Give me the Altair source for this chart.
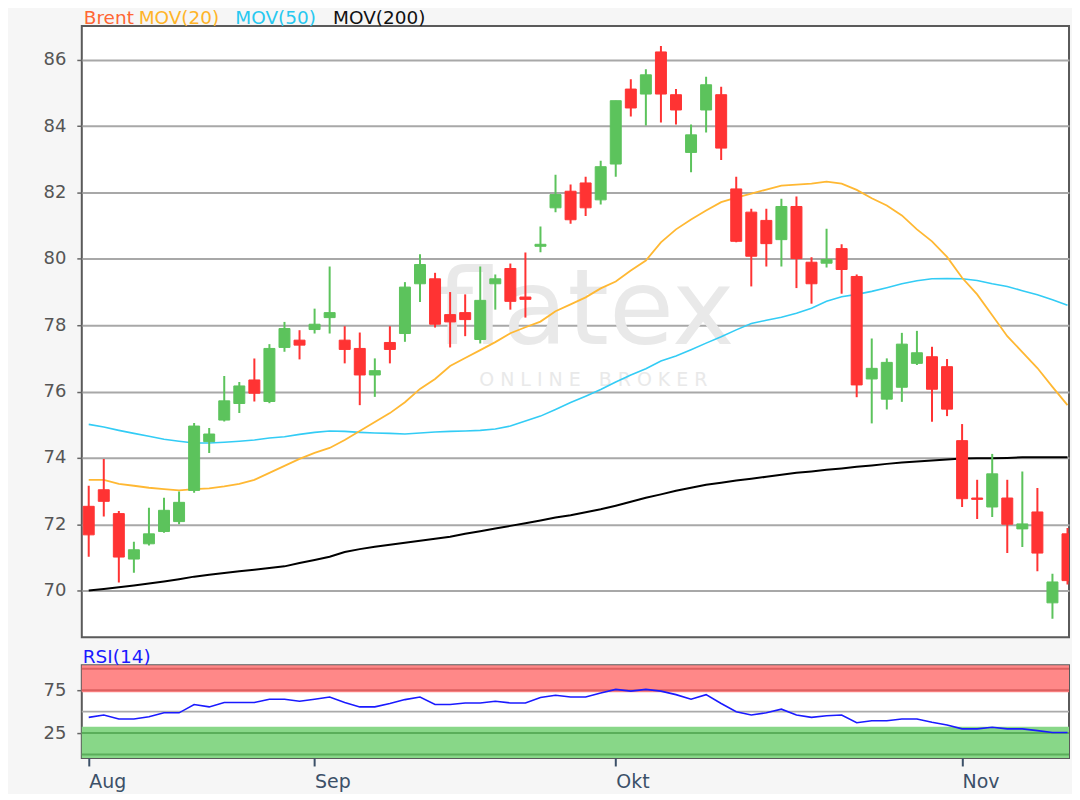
import altair as alt
import pandas as pd

# ---------------- data ----------------
idx = list(range(66))
opens = [72.54, 73.04, 72.32, 70.95, 71.41, 71.78, 72.08, 73.02, 74.49, 75.14,
         75.64, 76.35, 75.70, 77.33, 77.55, 77.87, 78.23, 77.55, 77.30, 76.50,
         77.48, 77.75, 79.25, 79.40, 78.32, 78.38, 77.57, 79.25, 79.71, 78.85,
         80.38, 81.54, 82.04, 82.29, 81.78, 82.86, 85.12, 84.97, 86.24, 84.95,
         83.21, 84.49, 84.95, 82.11, 81.41, 81.16, 80.58, 81.58, 79.90, 79.87,
         80.31, 79.47, 76.38, 75.77, 76.13, 76.85, 77.05, 76.75, 74.52, 72.79,
         72.52, 72.79, 71.86, 72.37, 69.63, 71.71]
highs = [73.16, 73.97, 72.40, 71.47, 72.50, 72.80, 72.99, 75.05, 74.90, 76.47,
         76.29, 77.00, 77.43, 78.10, 77.85, 78.50, 79.77, 77.97, 77.78, 77.00,
         77.97, 79.30, 80.14, 79.58, 79.00, 78.93, 79.77, 79.53, 79.86, 80.19,
         80.98, 82.54, 82.24, 82.48, 82.96, 84.77, 85.42, 85.72, 86.42, 85.12,
         84.05, 85.49, 85.19, 82.48, 81.51, 81.51, 81.81, 81.88, 80.05, 80.91,
         80.44, 79.53, 77.60, 77.00, 77.77, 77.83, 77.35, 76.98, 75.02, 73.34,
         74.12, 73.34, 73.59, 73.09, 70.51, 71.89]
lows = [71.02, 72.23, 70.24, 70.54, 71.36, 71.74, 72.00, 72.95, 74.15, 75.10,
        75.35, 75.70, 75.65, 77.20, 76.97, 77.75, 77.75, 76.85, 75.59, 75.84,
        76.85, 77.50, 78.70, 77.93, 77.33, 77.67, 77.45, 78.47, 78.47, 78.23,
        80.20, 81.41, 81.06, 81.29, 81.64, 82.48, 84.29, 84.02, 84.11, 84.05,
        82.61, 83.81, 82.98, 80.50, 79.17, 79.77, 79.77, 79.12, 78.65, 79.74,
        78.95, 75.83, 75.04, 75.46, 75.69, 76.80, 75.09, 75.26, 72.52, 72.16,
        72.22, 71.13, 71.31, 70.58, 69.15, 70.18]
closes = [71.68, 72.69, 71.01, 71.23, 71.71, 72.42, 72.66, 74.96, 74.72, 75.72,
          76.17, 75.95, 77.30, 77.90, 77.40, 78.03, 78.38, 77.27, 76.50, 76.63,
          77.27, 79.15, 79.83, 78.03, 78.10, 78.17, 78.75, 79.40, 78.72, 78.78,
          80.44, 81.94, 81.18, 81.54, 82.78, 84.77, 84.55, 85.55, 84.97, 84.49,
          83.74, 85.25, 83.34, 80.53, 80.08, 80.46, 81.58, 80.01, 79.25, 79.98,
          79.68, 76.20, 76.70, 76.88, 77.43, 77.17, 76.07, 75.47, 72.77, 72.75,
          73.52, 72.00, 72.01, 71.13, 70.26, 70.30]
ma20 = [73.34, 73.34, 73.22, 73.16, 73.10, 73.06, 73.02, 73.06, 73.08, 73.14,
        73.22, 73.34, 73.55, 73.76, 73.97, 74.15, 74.30, 74.54, 74.81, 75.08,
        75.35, 75.68, 76.08, 76.38, 76.77, 77.01, 77.25, 77.49, 77.76, 77.94,
        78.11, 78.42, 78.63, 78.84, 79.11, 79.32, 79.65, 79.95, 80.50, 80.89,
        81.19, 81.46, 81.71, 81.85, 81.97, 82.09, 82.21, 82.24, 82.27, 82.33,
        82.27, 82.08, 81.83, 81.61, 81.31, 80.89, 80.53, 80.06, 79.43, 78.93,
        78.30, 77.67, 77.19, 76.71, 76.14, 75.59]
ma50 = [75.01, 74.93, 74.83, 74.74, 74.65, 74.56, 74.50, 74.45, 74.45, 74.47,
        74.50, 74.54, 74.60, 74.64, 74.71, 74.77, 74.81, 74.80, 74.77, 74.75,
        74.74, 74.72, 74.75, 74.78, 74.80, 74.81, 74.83, 74.87, 74.96, 75.11,
        75.26, 75.46, 75.67, 75.86, 76.06, 76.29, 76.50, 76.69, 76.92, 77.07,
        77.26, 77.46, 77.65, 77.86, 78.05, 78.15, 78.24, 78.36, 78.51, 78.72,
        78.86, 78.93, 79.02, 79.13, 79.25, 79.34, 79.40, 79.41, 79.40, 79.35,
        79.25, 79.17, 79.04, 78.92, 78.77, 78.60]
ma200 = [70.00, 70.05, 70.10, 70.15, 70.21, 70.27, 70.34, 70.42, 70.48, 70.53,
         70.58, 70.63, 70.68, 70.73, 70.83, 70.92, 71.02, 71.16, 71.25, 71.32,
         71.38, 71.44, 71.50, 71.56, 71.62, 71.71, 71.79, 71.87, 71.95, 72.03,
         72.11, 72.20, 72.27, 72.36, 72.45, 72.56, 72.68, 72.80, 72.90, 73.01,
         73.10, 73.19, 73.25, 73.32, 73.37, 73.43, 73.49, 73.55, 73.59, 73.64,
         73.68, 73.73, 73.77, 73.82, 73.86, 73.89, 73.92, 73.95, 73.98, 73.99,
         73.99, 74.00, 74.02, 74.02, 74.02, 74.02]
rsi = [43.3, 46.0, 41.4, 41.4, 44.0, 48.6, 48.6, 58.3, 55.5, 60.6,
       60.6, 60.6, 64.4, 64.4, 62.1, 64.4, 67.0, 60.6, 55.5, 55.5,
       59.4, 64.0, 67.0, 58.3, 58.3, 60.1, 60.1, 62.1, 60.1, 60.1,
       66.5, 69.0, 67.0, 67.0, 71.6, 75.9, 73.9, 75.9, 73.9, 69.8,
       64.4, 69.8, 59.4, 49.8, 46.0, 48.6, 52.9, 46.0, 43.3, 45.2,
       46.0, 37.1, 39.4, 39.4, 41.4, 41.4, 37.6, 34.5, 29.9, 29.9,
       31.8, 29.9, 29.9, 27.9, 25.6, 25.6]
month_pos = [0, 15, 35, 58]
month_lbl = ["Aug", "Sep", "Okt", "Nov"]
price_ticks = [70, 72, 74, 76, 78, 80, 82, 84, 86]
rsi_ticks = [25, 75]
rsi_upper_lines = [100, 75]
rsi_lower_lines = [25, 0]
rsi_mid = [50]
rsi_hi_band = [72.5, 104]
rsi_lo_band = [-4, 32.5]
legend_lbl = ["Brent", "MOV(20)", "MOV(50)", "MOV(200)"]

# ---------------- style ----------------
FONT = "DejaVu Sans"
UP, DOWN = "#5cc35c", "#ff3333"
C20, C50, C200 = "#ffb833", "#33ccf5", "#000000"
LEG_COLORS = ["#ff6633", "#ffb428", "#28c8f0", "#111111"]
LEG_X = [2, 57, 154, 252]
W, H_MAIN, H_RSI = 990, 613, 93
X_DOM = [-0.46, 65.1]

df = pd.DataFrame({"i": idx, "open": opens, "high": highs, "low": lows,
                   "close": closes, "ma20": ma20, "ma50": ma50,
                   "ma200": ma200, "rsi": rsi})
df["dir"] = ["up" if c >= o else "down" for o, c in zip(opens, closes)]

xscale = alt.Scale(domain=X_DOM, nice=False, zero=False, padding=0)
xs = alt.X("i:Q", scale=xscale, axis=None)
ysc = alt.Scale(domain=[68.59, 87.02], nice=False, zero=False)
y_axis = alt.Axis(
    values=price_ticks, grid=True, gridColor="#a8a8a8", gridWidth=2,
    domain=False, tickColor="#666666", tickSize=5, tickWidth=1.5,
    labelColor="#555555", labelFont=FONT, labelFontSize=18, labelPadding=11,
    title=None, minExtent=73, maxExtent=73)
dir_scale = alt.Scale(domain=["up", "down"], range=[UP, DOWN])
col = alt.Color("dir:N", scale=dir_scale, legend=None)

base = alt.Chart(df)

wm1 = alt.Chart(pd.DataFrame({"t": ["flatex"]})).mark_text(
    font=FONT, fontSize=106, color="#e9e9e9", align="center", baseline="alphabetic"
).encode(text="t:N", x=alt.value(505), y=alt.value(319))
wm2 = alt.Chart(pd.DataFrame({"t": ["O N L I N E\u00a0\u00a0\u00a0B R O K E R"]})).mark_text(
    font=FONT, fontSize=19, color="#e9e9e9", align="center", baseline="alphabetic"
).encode(text="t:N", x=alt.value(513), y=alt.value(361))

wicks = base.mark_rule(strokeWidth=2, clip=True).encode(
    x=xs, y=alt.Y("low:Q", scale=ysc, axis=y_axis), y2="high:Q", color=col)
bodies = base.mark_bar(size=11, strokeWidth=1, clip=True).encode(
    x=xs, y=alt.Y("open:Q", scale=ysc, axis=y_axis), y2="close:Q", color=col,
    stroke=alt.Stroke("dir:N", scale=dir_scale, legend=None))


def ma_line(field, color, width):
    return base.mark_line(color=color, strokeWidth=width, clip=True).encode(
        x=xs, y=alt.Y(f"{field}:Q", scale=ysc, axis=y_axis))


legend_layers = []
for lbl, c, lx in zip(legend_lbl, LEG_COLORS, LEG_X):
    legend_layers.append(
        alt.Chart(pd.DataFrame({"t": [lbl]})).mark_text(
            font=FONT, fontSize=18.5, color=c, align="left", baseline="alphabetic"
        ).encode(text="t:N", x=alt.value(lx), y=alt.value(-2))
    )

main = alt.layer(
    wm1, wm2, ma_line("ma200", C200, 2), ma_line("ma50", C50, 1.6),
    ma_line("ma20", C20, 1.8), wicks, bodies, *legend_layers
).properties(width=W, height=H_MAIN)

# ---------------- RSI panel ----------------
rsc = alt.Scale(domain=[-4, 104], nice=False, zero=False)
r_axis = alt.Axis(
    values=rsi_ticks, grid=False, domain=False, tickColor="#666666", tickSize=5,
    tickWidth=1.5, labelColor="#555555", labelFont=FONT, labelFontSize=18,
    labelPadding=11, title=None, minExtent=73, maxExtent=73)
label_expr = ("[" + ",".join(f"'{m}'" for m in month_lbl) + "][indexof(["
              + ",".join(str(p) for p in month_pos) + "], datum.value)]")
xr = alt.X("i:Q", scale=xscale,
           axis=alt.Axis(values=month_pos, labelExpr=label_expr, grid=False,
                         domain=False, tickColor="#3c5068", tickSize=8, tickWidth=2,
                         labelColor="#3c5068", labelFont=FONT, labelFontSize=19,
                         labelAlign="left", labelBaseline="top", labelPadding=7,
                         labelFlush=False, labelOverlap=False, title=None))


def band(vals, color):
    return alt.Chart(pd.DataFrame({"lo": [vals[0]], "hi": [vals[1]]})).mark_rect(color=color).encode(
        x=alt.value(0), x2=alt.value(W),
        y=alt.Y("lo:Q", scale=rsc, axis=r_axis), y2="hi:Q")


def hlines(vals, color):
    return alt.Chart(pd.DataFrame({"v": vals})).mark_rule(color=color, strokeWidth=2).encode(
        y=alt.Y("v:Q", scale=rsc, axis=r_axis))


rsi_line = base.mark_line(color="#1a1aff", strokeWidth=1.6).encode(
    x=xr, y=alt.Y("rsi:Q", scale=rsc, axis=r_axis))

rsi_title = alt.Chart(pd.DataFrame({"t": ["RSI(14)"]})).mark_text(
    font=FONT, fontSize=18.5, color="#1a1aff", align="left", baseline="alphabetic"
).encode(text="t:N", x=alt.value(1), y=alt.value(-2))

rsi_panel = alt.layer(
    band(rsi_hi_band, "#ff8888"), band(rsi_lo_band, "#88d788"),
    hlines(rsi_upper_lines, "#dd6060"), hlines(rsi_lower_lines, "#5aae5a"),
    hlines(rsi_mid, "#aaaaaa"), rsi_line, rsi_title
).properties(width=W, height=H_RSI)

chart = alt.vconcat(main, rsi_panel, spacing=9).resolve_scale(
    color="independent", stroke="independent"
).properties(
    background="#f6f6f6",
    padding={"top": -1, "left": 0, "right": 0, "bottom": 0},
).configure_view(fill="white", stroke="#5a5a5a", strokeWidth=2)

chart.save("out.html", embed_options={"renderer": "svg", "actions": False})
